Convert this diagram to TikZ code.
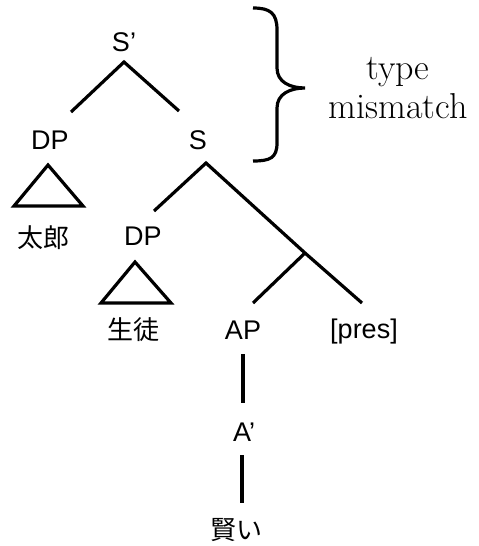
\documentclass[tikz,border=0pt]{standalone}
\usepackage{fontspec}
\newfontfamily\labfont{Liberation Sans}
\newfontfamily\cjk{Noto Sans CJK JP}
\begin{document}
\begin{tikzpicture}[x=1pt,y=-1pt,
  lab/.style={font=\labfont\fontsize{27}{27}\selectfont, inner sep=0pt},
  jp/.style={font=\cjk\fontsize{26}{26}\selectfont, inner sep=0pt},
  note/.style={font=\fontsize{36}{39}\selectfont, inner sep=0pt, align=center},
  edge/.style={line width=3.2pt},
  tri/.style={line width=3.2pt, line join=miter}]
\useasboundingbox (0,0) rectangle (479,546);
% labels
\node[lab] (Sp) at (124,42) {S’};
\node[lab] (DPa) at (50,140) {DP};
\node[lab] (S) at (198,140) {S};
\node[jp] (taro) at (43,238) {太郎};
\node[lab] (DPb) at (143,236) {DP};
\node[jp] (seito) at (133,330) {生徒};
\node[lab] (AP) at (243,330) {AP};
\node[lab] (pres) at (364,332) {[pres]};
\node[lab] (Ab) at (244,432) {A’};
\node[jp] (kashikoi) at (236,530) {賢い};
\node[note] (tm) at (398,88) {type\\mismatch};
% connector end points
\coordinate (spb) at (124,62);
\coordinate (dpat) at (71,112);
\coordinate (st) at (179,111);
\coordinate (sb) at (206,163);
\coordinate (dpbt) at (154,211);
\coordinate (j) at (305,253);
\coordinate (apt) at (253,303);
\coordinate (prt) at (362,303);
\coordinate (apb) at (243,354);
\coordinate (abt) at (243,403);
\coordinate (abb) at (242,455);
\coordinate (kt) at (242,503);
% edges
\draw[edge] (dpat) -- (spb) -- (st);
\draw[edge] (dpbt) -- (sb) -- (j) -- (prt);
\draw[edge] (j) -- (apt);
\draw[edge] (apb) -- (abt);
\draw[edge] (abb) -- (kt);
% triangles
\draw[tri] (48,165) -- (83,206) -- (14,206) -- cycle;
\draw[tri] (135,262) -- (171,303) -- (101,303) -- cycle;
% brace
\draw[line width=3.2pt] (253,8) .. controls (270,8) and (277,13) .. (277,30) -- (277,68)
  .. controls (277,82) and (290,88) .. (305,88)
  .. controls (290,88) and (277,94) .. (277,108) -- (277,143)
  .. controls (277,158) and (270,161) .. (253,161);
\end{tikzpicture}
\end{document}
